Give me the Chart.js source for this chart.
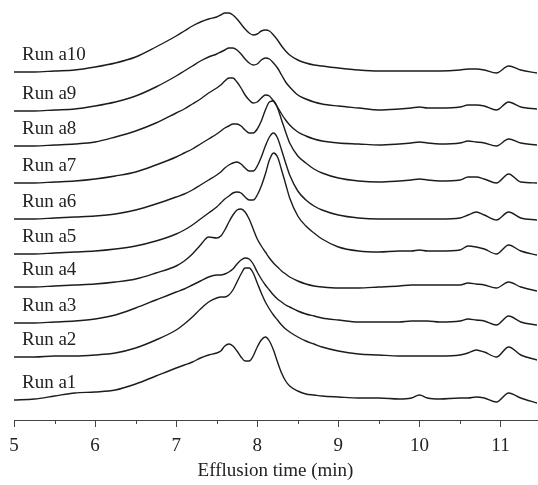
<!DOCTYPE html>
<html>
<head>
<meta charset="utf-8">
<script src="https://cdn.jsdelivr.net/npm/chart.js"></script>
<style>
html, body { margin: 0; padding: 0; background: #fff; }
#wrap { width: 538px; height: 485px; }
</style>
</head>
<body>
<div id="wrap"><canvas id="chart"></canvas></div>
<script>
// Efflusion time (min) sample points, shared by all runs
var times = [5.0, 5.25, 5.5, 5.75, 6.0, 6.25, 6.5, 6.75, 7.0, 7.1, 7.2, 7.3, 7.4, 7.5, 7.55, 7.6, 7.65, 7.7, 7.75, 7.8,
             7.85, 7.9, 7.95, 8.0, 8.05, 8.1, 8.15, 8.2, 8.25, 8.3, 8.35, 8.4, 8.5, 8.6, 8.7, 8.8, 9.0, 9.25, 9.5, 9.75,
             9.9, 10.0, 10.1, 10.25, 10.5, 10.6, 10.7, 10.8, 10.95, 11.1, 11.25, 11.45];

// detector signal, stacked with an offset per run (a.u.)
var runA1 = [20, 21, 24, 27, 28, 30, 36, 44, 52, 55, 58, 62, 65, 67, 69, 74, 76, 74, 69, 63,
             59, 59, 64, 73, 80, 83, 79, 70, 58, 47, 39, 34, 29, 26, 25, 24, 23, 22, 22, 21,
             22, 25, 22, 21, 22, 22, 23, 22, 18, 27, 22, 17];
var runA2 = [63, 63, 64, 64, 65, 67, 72, 80, 90, 96, 103, 111, 118, 122, 123, 123, 125, 130, 138, 146,
             152, 152, 147, 137, 127, 118, 111, 105, 100, 95, 91, 88, 83, 79, 76, 73, 69, 66, 65, 64,
             64, 64, 64, 64, 65, 67, 70, 68, 63, 73, 65, 60];
var runA3 = [97, 97, 98, 99, 101, 105, 112, 120, 128, 131, 135, 139, 143, 145, 145, 146, 148, 151, 156, 160,
             162, 161, 156, 148, 141, 135, 130, 125, 121, 118, 115, 113, 109, 106, 104, 102, 100, 98, 98, 98,
             99, 99, 99, 98, 99, 101, 100, 99, 95, 104, 98, 95];
var runA4 = [133, 133, 134, 135, 136, 138, 141, 147, 154, 159, 166, 175, 183, 182, 184, 190, 198, 205, 210, 211,
             208, 201, 191, 181, 174, 168, 162, 157, 153, 149, 146, 143, 139, 136, 134, 133, 132, 132, 133, 134,
             135, 135, 135, 135, 135, 137, 136, 135, 132, 138, 133, 129];
var runA5 = [166, 166, 167, 168, 169, 171, 174, 179, 186, 190, 195, 201, 207, 213, 217, 221, 224, 227, 228, 227,
             223, 220, 220, 225, 234, 246, 260, 267, 263, 250, 236, 222, 204, 194, 187, 181, 173, 169, 168, 169,
             169, 170, 169, 169, 170, 174, 173, 171, 166, 175, 169, 165];
var runA6 = [201, 201, 202, 203, 204, 206, 210, 216, 223, 226, 230, 235, 240, 245, 248, 252, 255, 257, 258, 256,
             252, 249, 249, 254, 263, 274, 283, 287, 282, 270, 257, 245, 229, 220, 214, 210, 205, 202, 201, 201,
             201, 201, 201, 201, 202, 205, 208, 205, 200, 208, 202, 200];
var runA7 = [237, 237, 238, 239, 241, 244, 248, 255, 263, 267, 271, 276, 281, 286, 289, 292, 294, 296, 296, 294,
             290, 287, 287, 291, 299, 310, 318, 319, 312, 300, 288, 277, 264, 257, 251, 247, 242, 239, 238, 239,
             240, 241, 240, 239, 240, 243, 243, 241, 237, 246, 238, 237];
var runA8 = [274, 274, 275, 276, 278, 283, 289, 297, 307, 311, 316, 321, 327, 332, 335, 339, 342, 342, 338, 332,
             325, 320, 317, 318, 322, 325, 324, 319, 313, 306, 300, 295, 288, 284, 281, 279, 277, 276, 275, 276,
             277, 278, 277, 276, 277, 279, 278, 277, 274, 281, 277, 275];
var runA9 = [309, 309, 310, 311, 314, 318, 324, 333, 344, 349, 354, 359, 363, 366, 368, 370, 372, 372, 370, 366,
             361, 357, 355, 356, 360, 362, 361, 357, 352, 345, 338, 333, 325, 321, 318, 316, 314, 312, 310, 311,
             312, 313, 312, 312, 313, 315, 315, 314, 310, 318, 313, 311];
var runA10 = [348, 348, 349, 350, 353, 357, 363, 373, 384, 389, 394, 398, 401, 403, 405, 407, 407, 405, 401, 396,
              391, 387, 385, 386, 389, 390, 389, 385, 380, 374, 369, 365, 360, 357, 355, 354, 352, 350, 349, 349,
              349, 349, 349, 349, 350, 351, 351, 350, 347, 354, 350, 347];

var runNames = ['Run a1', 'Run a2', 'Run a3', 'Run a4', 'Run a5', 'Run a6', 'Run a7', 'Run a8', 'Run a9', 'Run a10'];
var runs = [runA1, runA2, runA3, runA4, runA5, runA6, runA7, runA8, runA9, runA10];
var xTicks = [5, 6, 7, 8, 9, 10, 11];
var minorTicks = [5.5, 6.5, 7.5, 8.5, 9.5, 10.5];

var FONT = '"Liberation Serif", "Times New Roman", serif';

var datasets = runs.map(function(vals, i) {
    return {
        label: runNames[i],
        data: times.map(function(t, j) { return { x: t, y: vals[j] }; }),
        borderColor: '#1c1c1c',
        borderWidth: 1.4,
        pointRadius: 0,
        fill: false,
        cubicInterpolationMode: 'monotone'
    };
});

// run names sit just above the start of each trace
var runLabels = {
    id: 'runLabels',
    afterDatasetsDraw: function(chart) {
        var ctx = chart.ctx;
        var yAxis = chart.scales.y;
        ctx.save();
        ctx.fillStyle = '#222';
        ctx.font = '19px ' + FONT;
        ctx.textAlign = 'left';
        ctx.textBaseline = 'middle';
        runs.forEach(function(vals, i) {
            ctx.fillText(runNames[i], 22, yAxis.getPixelForValue(vals[0]) - 17);
        });
        ctx.restore();
    }
};

// short unlabelled ticks between the whole minutes
var minorTickMarks = {
    id: 'minorTickMarks',
    afterDraw: function(chart) {
        var ctx = chart.ctx;
        var xAxis = chart.scales.x;
        ctx.save();
        ctx.strokeStyle = '#444';
        ctx.lineWidth = 1;
        minorTicks.forEach(function(m) {
            var x = Math.round(xAxis.getPixelForValue(m)) + 0.5;
            ctx.beginPath();
            ctx.moveTo(x, xAxis.top);
            ctx.lineTo(x, xAxis.top + 4);
            ctx.stroke();
        });
        ctx.restore();
    }
};

new Chart(document.getElementById('chart'), {
    type: 'line',
    data: { datasets: datasets },
    options: {
        responsive: true,
        maintainAspectRatio: false,
        animation: false,
        layout: { padding: { left: 14, right: 1, top: 0, bottom: 0 } },
        scales: {
            x: {
                type: 'linear',
                min: 5,
                max: 11.45,
                afterBuildTicks: function(scale) {
                    scale.ticks = xTicks.map(function(v) { return { value: v }; });
                },
                afterFit: function(scale) { scale.height = 65; },
                border: { display: true, color: '#444', width: 1 },
                grid: { drawOnChartArea: false, drawTicks: true, tickLength: 7, color: '#444' },
                ticks: {
                    color: '#222',
                    padding: 8,
                    maxRotation: 0,
                    autoSkip: false,
                    font: { family: FONT, size: 19 },
                    callback: function(v) { return String(v); }
                },
                title: {
                    display: true,
                    text: 'Efflusion time (min)',
                    color: '#222',
                    padding: { top: 0, bottom: 3 },
                    font: { family: FONT, size: 19 }
                }
            },
            y: {
                display: false,
                min: 0,
                max: 420
            }
        },
        plugins: {
            legend: { display: false },
            tooltip: { enabled: false }
        }
    },
    plugins: [runLabels, minorTickMarks]
});
</script>
</body>
</html>
